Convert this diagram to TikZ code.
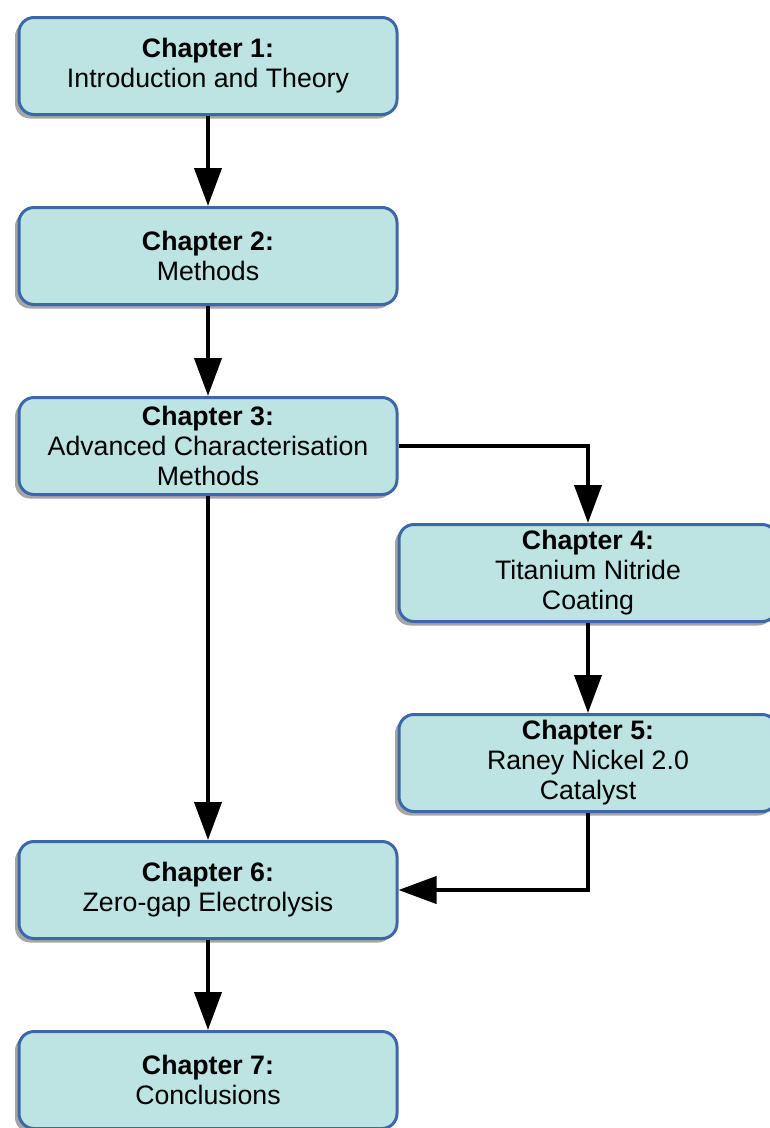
\documentclass[tikz,border=0pt]{standalone}
\usepackage{fontspec}
\setmainfont{Liberation Sans}
\usetikzlibrary{arrows.meta,shadows}
\definecolor{boxfill}{HTML}{BDE3E3}
\definecolor{boxline}{HTML}{3C67A8}
\newcommand{\colL}{208}
\newcommand{\colR}{588}
\newcommand{\chap}[2]{\textbf{Chapter #1:}\\#2}
\begin{document}
\begin{tikzpicture}[
      x=1pt, y=-1pt, %pixel grid, y pointing down
      chapter/.style={draw=boxline, fill=boxfill, line width=3pt, rounded corners=15pt,
        minimum width=378pt, minimum height=97pt, align=center,
        font=\fontsize{26.7}{30}\selectfont,
        drop shadow={shadow xshift=-4pt, shadow yshift=-4pt, fill=black!35, opacity=1}},
      arr/.style={line width=4pt, -{Triangle[length=38pt,width=27pt]}}
    ]
    \useasboundingbox (0,0) rectangle (770,1128);
    % Main line of chapters
    \node[chapter] (c1) at (\colL,66)  {\chap{1}{Introduction and Theory}};
    \node[chapter] (c2) at (\colL,256) {\chap{2}{Methods}};
    \node[chapter] (c3) at (\colL,446) {\chap{3}{Advanced Characterisation\\Methods}};
    % Side branch
    \node[chapter] (c4) at (\colR,573) {\chap{4}{Titanium Nitride\\Coating}};
    \node[chapter] (c5) at (\colR,763) {\chap{5}{Raney Nickel 2.0\\Catalyst}};
    % Back to the main line
    \node[chapter] (c6) at (\colL,890)  {\chap{6}{Zero-gap Electrolysis}};
    \node[chapter] (c7) at (\colL,1080) {\chap{7}{Conclusions}};
    % Arrows
    \draw[arr] (c1) -- (c2);
    \draw[arr] (c2) -- (c3);
    \draw[arr] (c3.south) -- (c6.north);
    \draw[arr] (c3.east) -| (c4.north);
    \draw[arr] (c4) -- (c5);
    \draw[arr] (c5.south) |- (c6.east);
    \draw[arr] (c6) -- (c7);
\end{tikzpicture}
\end{document}
